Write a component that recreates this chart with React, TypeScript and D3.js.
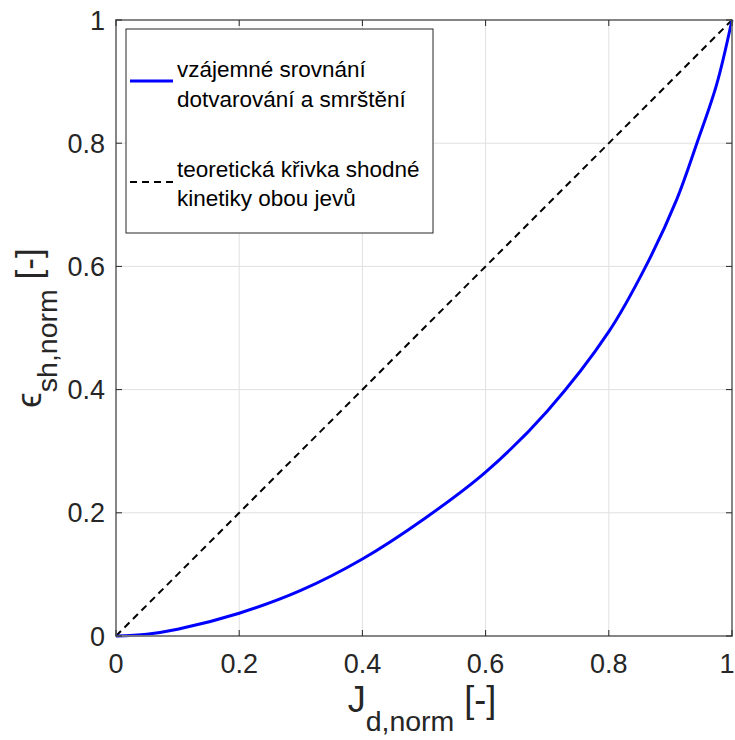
import React from "react";
import * as d3 from "d3";

const jdNorm = [0, 0.05, 0.1, 0.2, 0.3, 0.4, 0.5, 0.6, 0.7, 0.8, 0.86, 0.91, 0.943, 0.975, 1];
const epsNorm = [0, 0.003, 0.011, 0.037, 0.074, 0.125, 0.19, 0.266, 0.365, 0.494, 0.6, 0.708, 0.8, 0.895, 1];
const theoryX = [0, 1];
const theoryY = [0, 1];
const tickValues = [0, 0.2, 0.4, 0.6, 0.8, 1];
const tickLabels = ["0", "0.2", "0.4", "0.6", "0.8", "1"];
const legendBlue = ["vzájemné srovnání", "dotvarování a smrštění"];
const legendDash = ["teoretická křivka shodné", "kinetiky obou jevů"];

const W = 735;
const H = 740;
const left = 116, right = 732, top = 20, bottom = 636;
const FONT = "'Liberation Sans', Arial, Helvetica, sans-serif";
const TXT = "#262626";

export default function App() {
  const x = d3.scaleLinear().domain([0, 1]).range([left, right]);
  const y = d3.scaleLinear().domain([0, 1]).range([bottom, top]);
  const line = d3
    .line<number>()
    .x((_, i) => x(jdNorm[i]))
    .y((d) => y(d))
    .curve(d3.curveCatmullRom.alpha(0.5));
  const theory = d3
    .line<number>()
    .x((_, i) => x(theoryX[i]))
    .y((d) => y(d));
  const tl = 6;
  const axisC = "#7a7a7a";
  const sub = 19;
  return (
    <svg
      width={W}
      height={H}
      style={{ position: "absolute", left: 0, top: 0, background: "#fff" }}
      fontFamily={FONT}
    >
      <rect x={0} y={0} width={W} height={H} fill="#fff" />
      {tickValues.map((t, i) => (
        <g key={"g" + i}>
          <line x1={x(t)} x2={x(t)} y1={top} y2={bottom} stroke="#e0e0e0" strokeWidth={1} />
          <line x1={left} x2={right} y1={y(t)} y2={y(t)} stroke="#e0e0e0" strokeWidth={1} />
        </g>
      ))}
      <path d={theory(theoryY) || ""} fill="none" stroke="#000" strokeWidth={2} strokeDasharray="7,5" />
      <path d={line(epsNorm) || ""} fill="none" stroke="#0000ff" strokeWidth={3} />
      <rect x={left} y={top} width={right - left} height={bottom - top} fill="none" stroke={axisC} strokeWidth={1.8} />
      {tickValues.map((t, i) => (
        <g key={"t" + i} stroke="#262626" strokeWidth={1}>
          <line x1={x(t)} x2={x(t)} y1={bottom} y2={bottom - tl} />
          <line x1={x(t)} x2={x(t)} y1={top} y2={top + tl} />
          <line x1={left} x2={left + tl} y1={y(t)} y2={y(t)} />
          <line x1={right} x2={right - tl} y1={y(t)} y2={y(t)} />
        </g>
      ))}
      {tickValues.map((t, i) => (
        <g key={"l" + i} fill={TXT} fontSize={27}>
          <text x={i === tickValues.length - 1 ? x(t) - 5 : x(t)} y={bottom + 37} textAnchor="middle">
            {tickLabels[i]}
          </text>
          <text x={left - 11} y={y(t) + 9.5} textAnchor="end">
            {tickLabels[i]}
          </text>
        </g>
      ))}
      <text x={(left + right) / 2 - 2} y={712} textAnchor="middle" fill={TXT} fontSize={36} style={{ whiteSpace: "pre" }}>
        J
        <tspan fontSize={28.5} dy={sub}>d,norm</tspan>
        <tspan dy={-sub}>{" [-]"}</tspan>
      </text>
      <text
        transform={`translate(41, ${(top + bottom) / 2}) rotate(-90)`}
        textAnchor="middle"
        fill={TXT}
        fontSize={35}
        style={{ whiteSpace: "pre" }}
      >
        ϵ
        <tspan fontSize={28.5} dy={16}>sh,norm</tspan>
        <tspan dy={-16}>{" [-]"}</tspan>
      </text>
      <rect x={126} y={29} width={307} height={204} fill="#fff" stroke="#262626" strokeWidth={1} />
      <line x1={130} x2={173} y1={81} y2={81} stroke="#0000ff" strokeWidth={3} />
      <line x1={130} x2={173} y1={182} y2={182} stroke="#000" strokeWidth={2} strokeDasharray="7,5" />
      <g fill="#000" fontSize={22.5}>
        {legendBlue.map((s, i) => (
          <text key={"b" + i} x={177} y={77 + i * 30}>
            {s}
          </text>
        ))}
        {legendDash.map((s, i) => (
          <text key={"d" + i} x={177} y={177 + i * 29}>
            {s}
          </text>
        ))}
      </g>
    </svg>
  );
}
